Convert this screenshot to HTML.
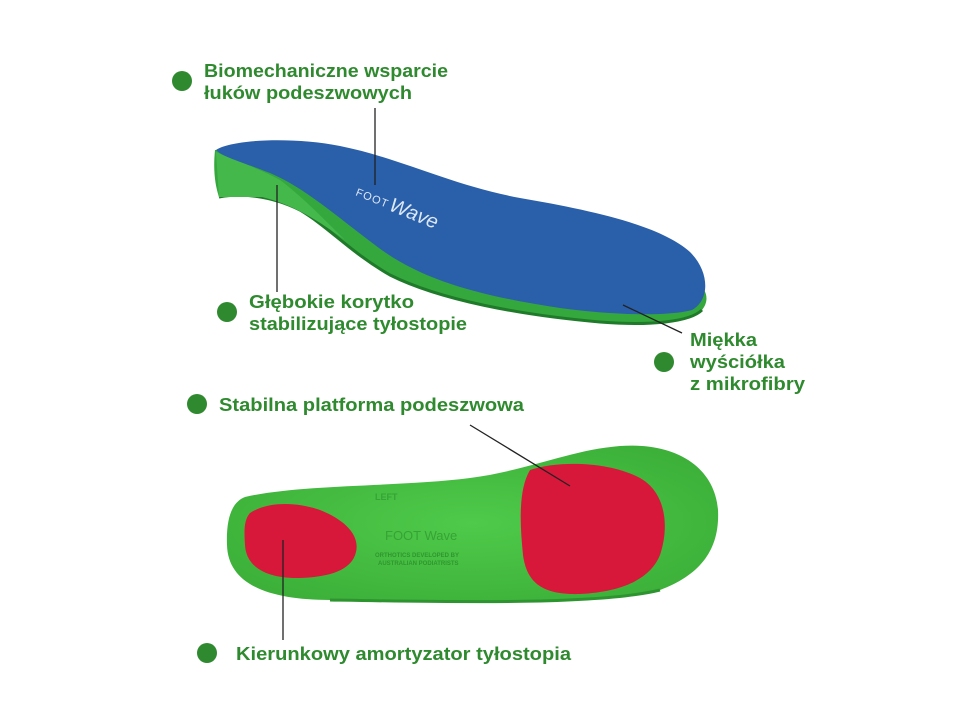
<!DOCTYPE html>
<html><head><meta charset="utf-8"><style>
html,body{margin:0;padding:0;background:#fff;}
svg{display:block;}
text{font-family:"Liberation Sans",sans-serif;font-weight:bold;font-size:18px;fill:#2f8a2f;}
</style></head><body>
<svg width="960" height="720" viewBox="0 0 960 720" xmlns="http://www.w3.org/2000/svg">
<defs>
<radialGradient id="gr" cx="0.5" cy="0.5" r="0.6">
<stop offset="0" stop-color="#4fca4a"/><stop offset="1" stop-color="#3cb039"/>
</radialGradient>
</defs>
<rect width="960" height="720" fill="#fff"/>
<path d="M215,150 C213,170 215,185 219,197 C240,193 270,195 300,210 C330,228 350,252 390,275 C440,300 520,315 600,322 C650,326 690,322 702,310 C710,300 706,290 700,285 L600,230 L300,150 Z" fill="#34a83c"/>
<path d="M219,197 C240,193 270,195 300,210 C330,228 350,252 390,275 C440,300 520,315 600,322 C650,326 690,322 702,310" fill="none" stroke="#1f7a2a" stroke-width="3"/>
<path d="M216,152 C240,162 262,170 280,180 C300,195 320,215 345,240 C320,222 295,205 262,197 L219,197 Z" fill="#45b84c"/>
<path d="M216,150 C230,140 290,136 340,146 C400,158 450,185 520,198 C590,210 660,225 690,252 C710,272 710,300 692,310 C670,316 620,316 560,308 C480,296 420,280 375,245 C335,215 305,188 270,173 C245,163 222,157 216,150 Z" fill="#2a5faa"/>
<text x="355" y="195" transform="rotate(22 355 195)" style="font-size:11px;fill:#dde8f5;font-weight:normal;letter-spacing:1px">FOOT</text>
<text x="388" y="210" transform="rotate(22 388 210)" style="font-size:20px;fill:#dde8f5;font-style:italic;font-weight:normal">Wave</text>
<path d="M245,497 C300,484 400,487 470,478 C530,470 570,450 620,446 C680,442 715,470 718,510 C720,550 700,575 660,590 C600,605 450,600 330,600 C270,600 228,585 227,545 C226,518 232,502 245,497 Z" fill="url(#gr)"/>
<path d="M330,600 C450,602 600,605 660,590" fill="none" stroke="#2e9430" stroke-width="3"/>
<path d="M250,513 C270,500 300,503 320,510 C345,520 360,535 356,552 C352,570 330,577 300,578 C265,579 246,566 245,545 C244,530 244,520 250,513 Z" fill="#d8183a"/>
<path d="M530,470 C560,460 610,462 640,478 C665,492 670,525 660,555 C650,580 620,592 580,594 C545,595 527,585 523,555 C520,525 518,490 530,470 Z" fill="#d8183a"/>
<text x="375" y="500" style="font-size:9px;fill:#35a335">LEFT</text>
<text x="385" y="540" style="font-size:13px;fill:#35a335;font-weight:normal">FOOT Wave</text>
<text x="375" y="557" style="font-size:6px;fill:#2f962f">ORTHOTICS DEVELOPED BY</text>
<text x="378" y="565" style="font-size:6px;fill:#2f962f">AUSTRALIAN PODIATRISTS</text>
<g stroke="#222" stroke-width="1.3">
<line x1="375" y1="108" x2="375" y2="185"/>
<line x1="277" y1="185" x2="277" y2="292"/>
<line x1="623" y1="305" x2="682" y2="333"/>
<line x1="470" y1="425" x2="570" y2="486"/>
<line x1="283" y1="540" x2="283" y2="640"/>
</g>
<g fill="#2f8a2f">
<circle cx="182" cy="81" r="10"/>
<circle cx="227" cy="312" r="10"/>
<circle cx="664" cy="362" r="10"/>
<circle cx="197" cy="404" r="10"/>
<circle cx="207" cy="653" r="10"/>
</g>
<text x="204" y="77" textLength="244" lengthAdjust="spacingAndGlyphs">Biomechaniczne wsparcie</text>
<text x="204" y="99" textLength="208" lengthAdjust="spacingAndGlyphs">łuków podeszwowych</text>
<text x="249" y="308" textLength="165" lengthAdjust="spacingAndGlyphs">Głębokie korytko</text>
<text x="249" y="330" textLength="218" lengthAdjust="spacingAndGlyphs">stabilizujące tyłostopie</text>
<text x="690" y="346" textLength="67" lengthAdjust="spacingAndGlyphs">Miękka</text>
<text x="690" y="368" textLength="95" lengthAdjust="spacingAndGlyphs">wyściółka</text>
<text x="690" y="390" textLength="115" lengthAdjust="spacingAndGlyphs">z mikrofibry</text>
<text x="219" y="411" textLength="305" lengthAdjust="spacingAndGlyphs">Stabilna platforma podeszwowa</text>
<text x="236" y="660" textLength="335" lengthAdjust="spacingAndGlyphs">Kierunkowy amortyzator tyłostopia</text>
</svg>
</body></html>
